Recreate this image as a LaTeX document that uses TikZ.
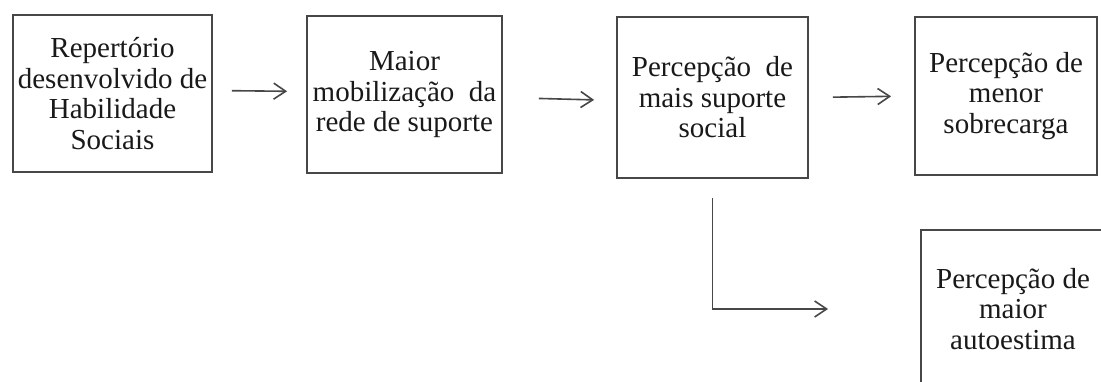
\documentclass[tikz,border=0pt]{standalone}
\usepackage{fontspec}
\setmainfont{Liberation Serif}
\usepackage{tikz}
\usetikzlibrary{calc,positioning}
\usetikzlibrary{arrows.meta}
\tikzset{>={Straight Barb[width=16pt,length=12pt]}}

\begin{document}
\begin{tikzpicture}[x=1pt,y=-1pt]
    \tikzstyle{bnode} = [draw=black!72, line width=1.8pt, rectangle, align=center, inner sep=0pt,
                         font=\fontsize{29}{30.5}\selectfont, text=black!90]
    \tikzstyle{seta} = [->, line width=1.6pt, draw=black!72]
    \useasboundingbox (0,0) rectangle (1101,382);
    \clip (0,0) rectangle (1101,382);
    \fill[white] (0,0) rectangle (1101,382);

    \node[bnode, minimum width=199pt, minimum height=157pt] (rep) at (112.5,93.5)
        {Repertório\\desenvolvido de\\Habilidade\\Sociais};
    \node[bnode, minimum width=195pt, minimum height=157pt] (mob) at (404.5,94.5)
        {Maior\\mobilização~~da\\rede de suporte};
    \node[bnode, minimum width=191pt, minimum height=161pt] (sup) at (712.5,97.5)
        {Percepção~~de\\mais suporte\\social};
    \node[bnode, minimum width=182pt, minimum height=158pt] (sob) at (1006,96)
        {Percepção de\\menor\\sobrecarga};
    \node[bnode, minimum width=184pt, minimum height=158pt] (aut) at (1013,309)
        {Percepção de\\maior\\autoestima};

    \draw[seta, shorten <=19pt, shorten >=19pt] ([yshift=3pt]rep.east) -- ([yshift=3pt]mob.west);
    \draw[seta, shorten <=36pt, shorten >=22pt] ([yshift=-3pt]mob.east) -- ([yshift=-3pt]sup.west);
    \draw[seta, shorten <=24pt, shorten >=23pt] (sup.east) -- (sob.west);
    \draw[seta, shorten <=19pt, shorten >=92pt] (sup.south) |- (aut.west);
  \end{tikzpicture}
\end{document}
